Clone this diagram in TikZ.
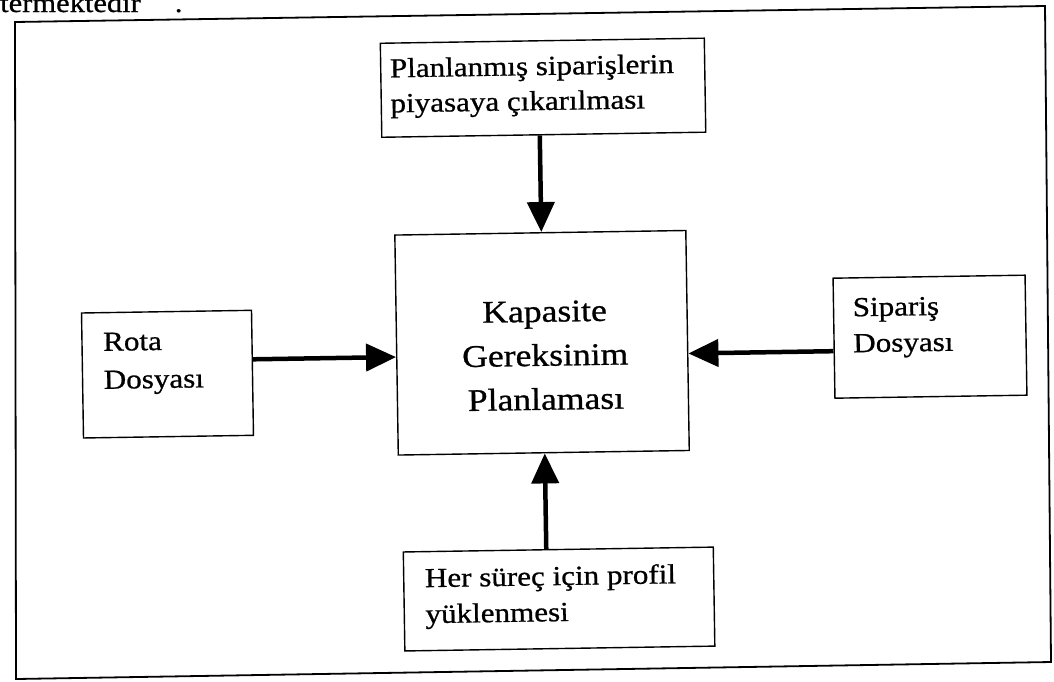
\documentclass[tikz,border=0pt]{standalone}
\usepackage{fontspec}
\setmainfont{Liberation Serif}[FakeStretch=1.13,FakeBold=0.8]
\usetikzlibrary{arrows.meta}
\begin{document}
\begin{tikzpicture}[x=1pt,y=-1pt,
  box/.style={draw, line width=1.4pt, inner sep=0pt},
  lbl/.style={inner sep=0pt, anchor=north west, align=left, font=\fontsize{27.5}{#1}\selectfont},
  lbl/.default=36,
  big/.style={inner sep=0pt, anchor=north, align=center, font=\fontsize{31.5}{44}\selectfont},
  arr/.style={line width=4.5pt, -{Triangle[length=30pt,width=27pt]}}]
\useasboundingbox (0,0) rectangle (1054,681);
\clip (0,0) rectangle (1054,681);
% outer frame
\draw[line width=1.8pt] (15,22) -- (1045,6) -- (1051,662) -- (16,679) -- cycle;
% cut-off running text
\node[anchor=base west, inner sep=0pt, font=\fontsize{27}{30}\selectfont] (prev) at (0,12) {termektedir\hspace{34pt}.};
\begin{scope}[rotate around={0.9:(527,340)}, transform shape]
  \node[box, minimum width=324pt, minimum height=94pt] (top) at (547,88) {};
  \node[box, minimum width=291pt, minimum height=220pt] (cen) at (542,343) {};
  \node[box, minimum width=170pt, minimum height=125pt] (lft) at (167,368.5) {};
  \node[box, minimum width=192pt, minimum height=120pt] (rgt) at (930,343) {};
  \node[box, minimum width=310pt, minimum height=99pt] (bot) at (555,599.5) {};
  \node[lbl=35] (toptxt) at (394,56) {Planlanmış siparişlerin\\piyasaya çıkarılması};
  \node[lbl=38] (lfttxt) at (103,326) {Rota\\Dosyası};
  \node[lbl=36] (rgttxt) at (853,303) {Sipariş\\Dosyası};
  \node[lbl=36] (bottxt) at (421,566) {Her süreç için profil\\yüklenmesi};
  \node[big] (centxt) at (545,301) {Kapasite\\Gereksinim\\Planlaması};
  \draw[arr] ([xshift=-4pt]top.south) -- ([xshift=1pt]cen.north);
  \draw[arr] ([xshift=-12pt]bot.north) -- ([xshift=1pt]cen.south);
  \draw[arr] ([yshift=13.5pt]lft.east) -- ([yshift=-12pt]cen.west);
  \draw[arr] ([yshift=-13pt]rgt.west) -- ([yshift=-13pt]cen.east);
\end{scope}
\end{tikzpicture}
\end{document}
